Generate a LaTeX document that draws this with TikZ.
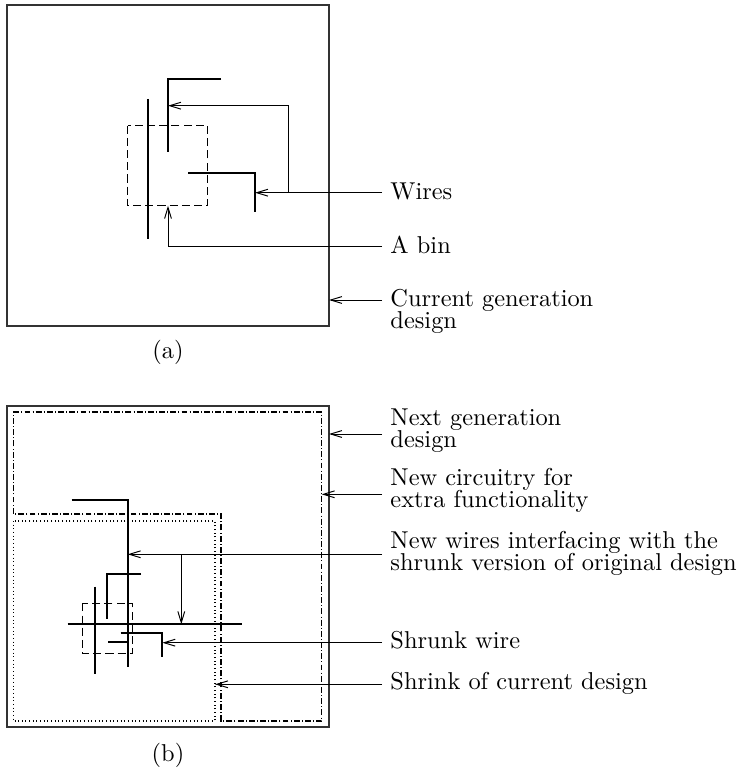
\documentclass[tikz,border=0pt]{standalone}
\usetikzlibrary{arrows.meta}

\begin{document}
\begin{tikzpicture}[x=0.41pt,y=-0.41pt,line cap=butt,line join=miter,
    every node/.style={font=\fontsize{10pt}{12pt}\selectfont},
    wire/.style={line width=0.7pt},
    arr/.style={line width=0.4pt,-{Straight Barb[length=4.6pt,width=2.8pt]}},
    frame/.style={line width=0.6pt,draw=black!80},
    binbox/.style={line width=0.45pt,dash pattern=on 3.3pt off 1.7pt},
    nextgen/.style={line width=0.45pt,dash pattern=on 2.4pt off 0.9pt on 0.4pt off 0.9pt},
    shrink/.style={line width=0.5pt,dash pattern=on 0.4pt off 1.1pt},
    lbl/.style={anchor=base west,inner sep=0pt,align=left}]
% ---- 画布（px，原点=左上角，y 向下） ----
\path[use as bounding box] (0,0) rectangle (742,770);

% ================= (a) current generation =================
\draw[frame] (7,5) rectangle (329,326);
\draw[binbox] (127.7,125.7) rectangle (207.7,205.7);   % a bin
\draw[wire] (147.7,99) -- (147.7,239);
\draw[wire] (221,79) -- (168,79) -- (168,152);
\draw[wire] (188,172.7) -- (255,172.7) -- (255,212);
% leader points
\coordinate (wiresL) at (382,192.7);  \coordinate (wiresB) at (288.7,192.7);
\coordinate (binL)   at (382,246);    \coordinate (curL)   at (382,300);
\coordinate (w1)  at (168,105.7);     \coordinate (w2)  at (255,192.7);
\coordinate (bin) at (168,205.7);     \coordinate (frA) at (329,300);
\draw[arr] (wiresL) -- (w2);
\draw[arr] (wiresB) |- (w1);
\draw[arr] (binL) -| (bin);
\draw[arr] (curL) -- (frA);
% labels (base = baseline of last line)
\node[lbl] (wires) at (390,200)   {Wires};
\node[lbl] (abin)  at (390,253.3) {A bin};
\node[lbl] (cur)   at (390,328.7) {Current generation\\[-3pt]design};
\node (capa) at (168,352) {(a)};

% ================= (b) next generation =================
\draw[frame] (7,406) rectangle (329,727);
\draw[nextgen] (13.3,412) -- (321.7,412) -- (321.7,721) -- (221,721)
               -- (221,514) -- (13.3,514) -- cycle;
\draw[shrink] (13.3,521) rectangle (215,721);
% new wires
\draw[wire] (71.7,500) -- (127.7,500) -- (127.7,666.7);
\draw[wire] (67.7,624.3) -- (241.7,624.3);
\draw[wire] (108,641.7) -- (127.7,641.7);
% shrunk design
\draw[binbox] (82.3,603.3) rectangle (132.7,653.3);
\draw[wire] (95,586.7) -- (95,674);
\draw[wire] (141,574) -- (107.3,574) -- (107.3,619.3);
\draw[wire] (120.7,632.7) -- (162.3,632.7) -- (162.3,657.3);
% leader points
\coordinate (nextL) at (382,434);     \coordinate (frB)  at (329,434);
\coordinate (circL) at (382,494.3);   \coordinate (ngR)  at (321.7,494.3);
\coordinate (newL)  at (382,554.3);   \coordinate (newB) at (181.3,554.3);
\coordinate (nwA)   at (127.7,554.3); \coordinate (nwH)  at (181.3,624.3);
\coordinate (shwL)  at (382,642.7);   \coordinate (shw)  at (162.3,642.7);
\coordinate (shkL)  at (382,684.3);   \coordinate (shk)  at (215,684.3);
\draw[arr] (nextL) -- (frB);
\draw[arr] (circL) -- (ngR);
\draw[arr] (newL) -- (nwA);
\draw[arr] (newB) -- (nwH);
\draw[arr] (shwL) -- (shw);
\draw[arr] (shkL) -- (shk);
% labels
\node[lbl] (next) at (390,447)   {Next generation\\[-3pt]design};
\node[lbl] (circ) at (390,507.3) {New circuitry for\\[-3pt]extra functionality};
\node[lbl] (neww) at (390,570.3) {New wires interfacing with the\\[-3pt]shrunk version of original design};
\node[lbl] (shwt) at (390,648.3) {Shrunk wire};
\node[lbl] (shkt) at (390,689)   {Shrink of current design};
\node (capb) at (168,755) {(b)};
\end{tikzpicture}
\end{document}
